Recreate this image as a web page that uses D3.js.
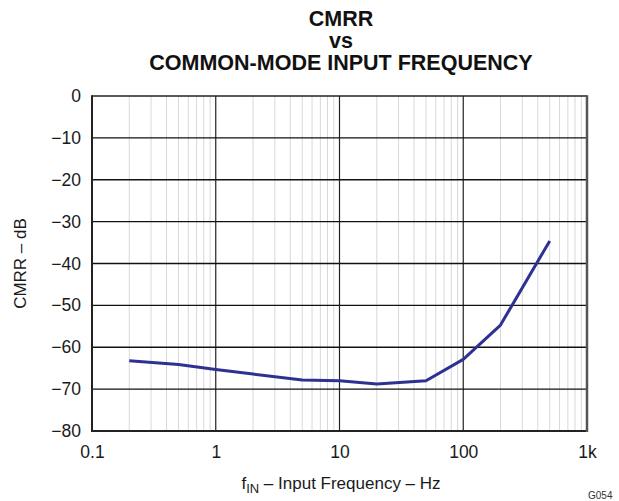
<!DOCTYPE html>
<html>
<head>
<meta charset="utf-8">
<script src="https://cdn.jsdelivr.net/npm/d3@7"></script>
<style>
  html, body { margin: 0; padding: 0; background: #fff; }
  svg { display: block; font-family: "Liberation Sans", Arial, Helvetica, sans-serif; }
</style>
</head>
<body>
<svg id="chart" width="619" height="501"></svg>
<script>
// CMRR measured against common-mode input frequency
const freqHz = [0.2, 0.5, 1, 2, 5, 10, 20, 50, 100, 200, 500];
const cmrrDb = [-63.2, -64.1, -65.3, -66.4, -67.8, -68.0, -68.8, -68.0, -62.9, -54.7, -34.6];

const xMajorTicks = [0.1, 1, 10, 100, 1000];
const xTickLabels = ["0.1", "1", "10", "100", "1k"];
const yTicks = [0, -10, -20, -30, -40, -50, -60, -70, -80];

const titleLines = ["CMRR", "vs", "COMMON-MODE INPUT FREQUENCY"];

const svg = d3.select("#chart");
const plotL = 92, plotR = 587, plotT = 96, plotB = 431;

const x = d3.scaleLog().domain([0.1, 1000]).range([plotL, plotR]);
const y = d3.scaleLinear().domain([-80, 0]).range([plotB, plotT]);

// minor vertical grid (2..9 of each decade)
const minor = [];
for (let d = 0.1; d < 1000; d *= 10) {
  for (let k = 2; k <= 9; k++) minor.push(d * k);
}
svg.append("g").selectAll("line").data(minor).join("line")
  .attr("x1", d => x(d)).attr("x2", d => x(d))
  .attr("y1", plotT).attr("y2", plotB)
  .attr("stroke", "#d8d8d8").attr("stroke-width", 1);

// major vertical grid
svg.append("g").selectAll("line").data(xMajorTicks.slice(1, -1)).join("line")
  .attr("x1", d => x(d)).attr("x2", d => x(d))
  .attr("y1", plotT).attr("y2", plotB)
  .attr("stroke", "#222").attr("stroke-width", 1.2);

// horizontal grid
svg.append("g").selectAll("line").data(yTicks.slice(1, -1)).join("line")
  .attr("x1", plotL).attr("x2", plotR)
  .attr("y1", d => y(d)).attr("y2", d => y(d))
  .attr("stroke", "#111").attr("stroke-width", 1.3);

// frame
svg.append("line").attr("x1", plotL).attr("x2", plotR).attr("y1", plotT).attr("y2", plotT)
  .attr("stroke", "#222").attr("stroke-width", 1.5);
svg.append("line").attr("x1", plotL).attr("x2", plotR).attr("y1", plotB).attr("y2", plotB)
  .attr("stroke", "#222").attr("stroke-width", 2);
svg.append("line").attr("x1", plotL).attr("x2", plotL).attr("y1", plotT - 0.75).attr("y2", plotB + 1)
  .attr("stroke", "#222").attr("stroke-width", 2);
svg.append("line").attr("x1", plotR).attr("x2", plotR).attr("y1", plotT - 0.75).attr("y2", plotB + 1)
  .attr("stroke", "#555").attr("stroke-width", 2.5);

// axes (labels only, lines drawn above)
const xAxis = d3.axisBottom(x).tickValues(xMajorTicks)
  .tickFormat((d, i) => xTickLabels[i]).tickSize(0).tickPadding(0);
const gx = svg.append("g").attr("transform", `translate(0,${plotB})`).call(xAxis);
gx.select(".domain").remove();
gx.selectAll("text").attr("font-size", 17.5).attr("fill", "#1a1a1a")
  .attr("font-family", "Liberation Sans, Arial, sans-serif")
  .attr("dy", null).attr("y", 27);

const yAxis = d3.axisLeft(y).tickValues(yTicks)
  .tickFormat(d => d === 0 ? "0" : "\u2212" + Math.abs(d)).tickSize(0).tickPadding(11);
const gy = svg.append("g").attr("transform", `translate(${plotL},0)`).call(yAxis);
gy.select(".domain").remove();
gy.selectAll("text").attr("font-size", 17.5).attr("fill", "#1a1a1a")
  .attr("font-family", "Liberation Sans, Arial, sans-serif");

// data curve
const line = d3.line().x((d, i) => x(freqHz[i])).y(d => y(d));
svg.append("path").datum(cmrrDb)
  .attr("d", line)
  .attr("fill", "none")
  .attr("stroke", "#2e3192")
  .attr("stroke-width", 3)
  .attr("stroke-linejoin", "round");

// title
const titleY = [26, 48, 70];
svg.append("g").selectAll("text").data(titleLines).join("text")
  .attr("x", 341).attr("y", (d, i) => titleY[i])
  .attr("text-anchor", "middle")
  .attr("font-weight", "bold")
  .attr("font-size", 21.5)
  .attr("fill", "#111")
  .text(d => d);

// y axis title
svg.append("text")
  .attr("transform", `translate(26,${(plotT + plotB) / 2}) rotate(-90)`)
  .attr("text-anchor", "middle")
  .attr("font-size", 17)
  .attr("fill", "#1a1a1a")
  .text("CMRR \u2013 dB");

// x axis title with subscript
const xt = svg.append("text")
  .attr("x", 341).attr("y", 489)
  .attr("text-anchor", "middle")
  .attr("font-size", 17)
  .attr("fill", "#1a1a1a");
xt.append("tspan").text("f");
xt.append("tspan").attr("font-size", 13).attr("dy", 4).text("IN");
xt.append("tspan").attr("dy", -4).text(" \u2013 Input Frequency \u2013 Hz");

// figure code
svg.append("text")
  .attr("x", 588).attr("y", 499)
  .attr("font-size", 10)
  .attr("fill", "#333")
  .text("G054");
</script>
</body>
</html>
